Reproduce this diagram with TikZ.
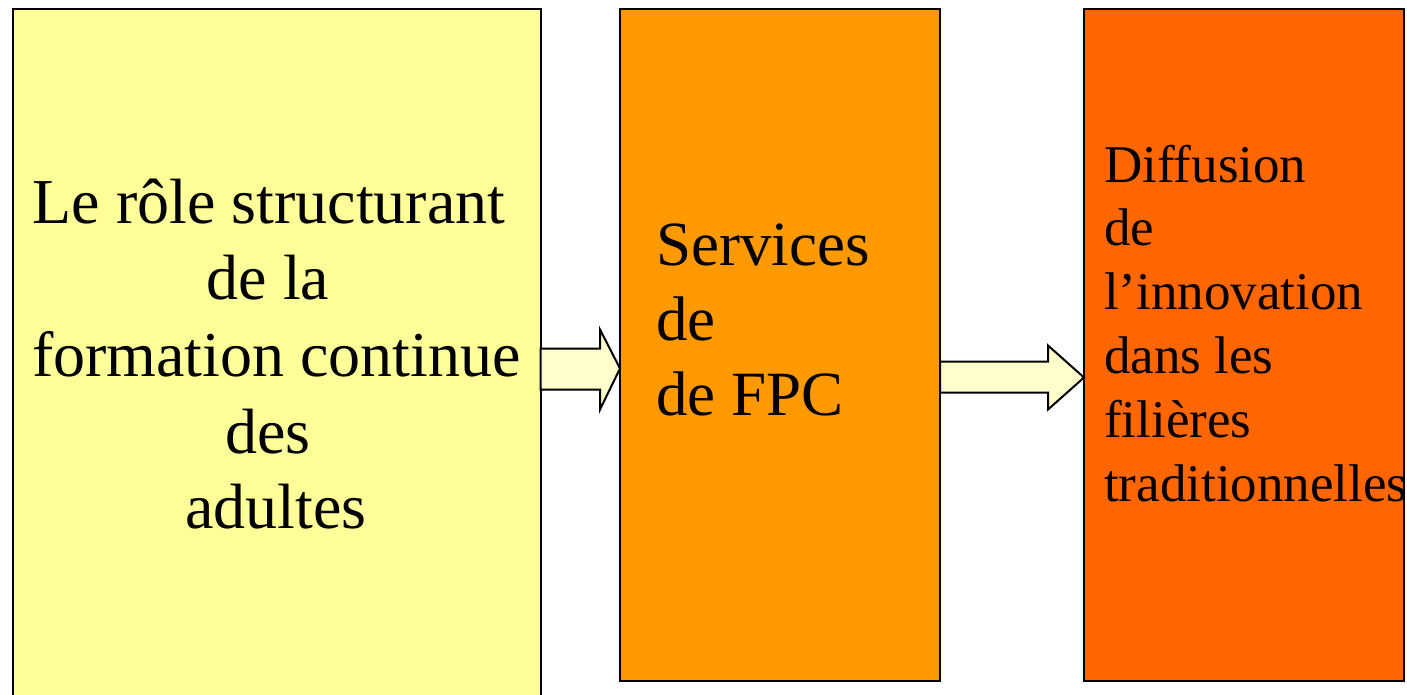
\documentclass[tikz,border=0pt]{standalone}
\usepackage{fontspec}
\setmainfont{Liberation Serif}
\usetikzlibrary{calc}
\definecolor{cyellow}{HTML}{FFFF99}
\definecolor{corange}{HTML}{FF9900}
\definecolor{cdark}{HTML}{FF6600}
\definecolor{carrow}{HTML}{FFFFCC}
\tikzset{
  panel/.style={draw=black, line width=2pt, rectangle, outer sep=0pt, inner sep=0pt, anchor=north west},
  blockarrow/.style={draw=black, line width=2pt, fill=carrow, line join=miter},
  bigtext/.style={inner sep=0pt, font=\fontsize{64}{76}\selectfont, anchor=base},
  midtext/.style={inner sep=0pt, font=\fontsize{63}{75}\selectfont, anchor=base west},
  smalltext/.style={inner sep=0pt, font=\fontsize{53}{64}\selectfont, anchor=base west}
}
\begin{document}
\begin{tikzpicture}[x=1pt,y=-1pt]
\useasboundingbox (0,0) rectangle (1407,694);
\clip (0,0) rectangle (1407,694);
% panels
\node[panel, fill=cyellow, minimum width=528pt, minimum height=700pt] (b1) at (12.5,8.5) {};
\node[panel, fill=corange, minimum width=320pt, minimum height=672.5pt] (b2) at (620,8.5) {};
\node[panel, fill=cdark, minimum width=320pt, minimum height=672.5pt] (b3) at (1084,8.5) {};
% arrows
\coordinate (t1) at ($(b2.north west)+(0,360)$);
\draw[blockarrow] ($(b1.north east)+(0,340)$) -- ($(t1)+(-20,-20)$) -- ($(t1)+(-20,-39)$) -- (t1)
  -- ($(t1)+(-20,41)$) -- ($(t1)+(-20,21)$) -- ($(b1.north east)+(0,381)$) -- cycle;
\coordinate (t2) at ($(b3.north west)+(0,369)$);
\draw[blockarrow] ($(b2.north east)+(0,353)$) -- ($(t2)+(-36,-16)$) -- ($(t2)+(-36,-32)$) -- (t2)
  -- ($(t2)+(-36,32)$) -- ($(t2)+(-36,15)$) -- ($(b2.north east)+(0,384)$) -- cycle;
% box 1 text
\node[bigtext] (l1) at (269,223) {Le rôle structurant};
\node[bigtext] (l2) at (268,299) {de la};
\node[bigtext] (l3) at (276.5,376) {formation continue};
\node[bigtext] (l4) at (268,453) {des};
\node[bigtext] (l5) at (276,528) {adultes};
% box 2 text
\node[midtext] (m1) at (656,265) {Services};
\node[midtext] (m2) at (656,340) {de};
\node[midtext] (m3) at (656,415) {de FPC};
% box 3 text
\node[smalltext] (s1) at (1104,182) {Diffusion};
\node[smalltext] (s2) at (1104,245) {de};
\node[smalltext] (s3) at (1104,309) {l’innovation};
\node[smalltext] (s4) at (1104,373) {dans les};
\node[smalltext] (s5) at (1104,437) {filières};
\node[smalltext] (s6) at (1104,501) {traditionnelles};
\end{tikzpicture}
\end{document}
